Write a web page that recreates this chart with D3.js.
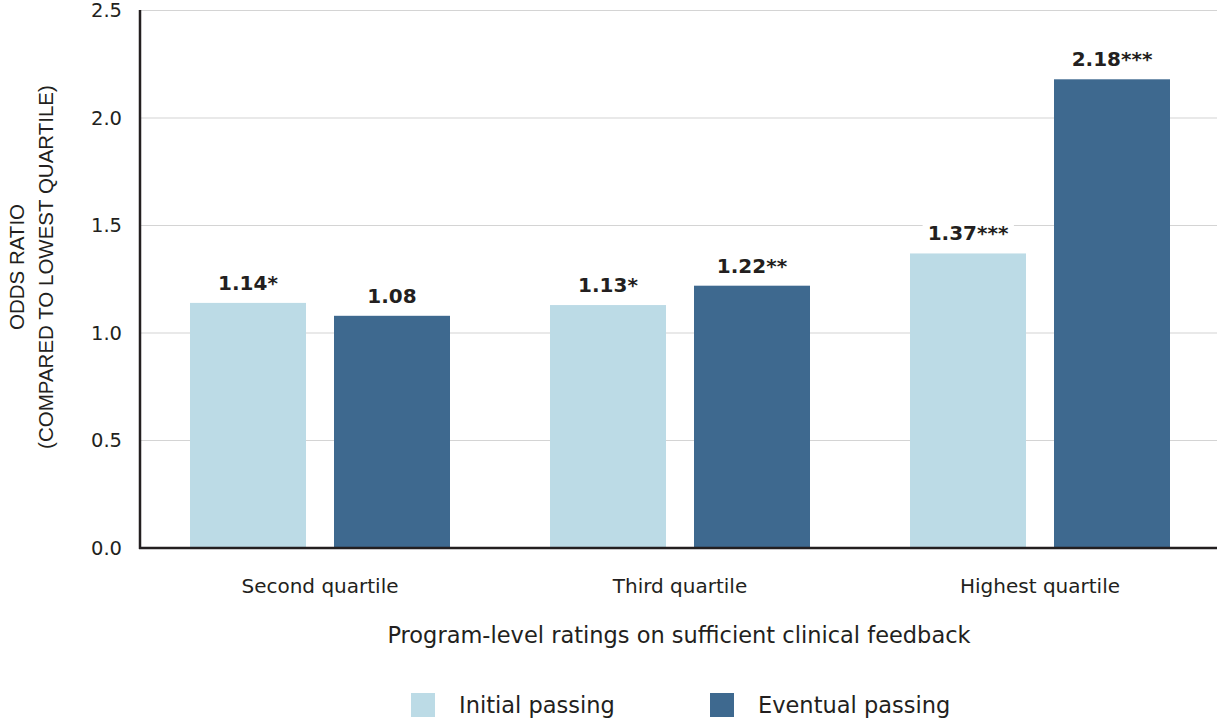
<!DOCTYPE html>
<html><head><meta charset="utf-8">
<script src="https://cdn.jsdelivr.net/npm/d3@7"></script>
<style>body{margin:0;background:#fff}svg{display:block}text{font-family:"DejaVu Sans",sans-serif;fill:#231f20}</style>
</head><body><svg id="c" width="1217" height="720"></svg>
<script>
const categories = ["Second quartile", "Third quartile", "Highest quartile"];
const seriesNames = ["Initial passing", "Eventual passing"];
const initialValues = [1.14, 1.13, 1.37];
const eventualValues = [1.08, 1.22, 2.18];
const initialLabels = ["1.14*", "1.13*", "1.37***"];
const eventualLabels = ["1.08", "1.22**", "2.18***"];
const yTicks = [0, 0.5, 1.0, 1.5, 2.0, 2.5];
const colors = ["#bcdbe6", "#3e698f"];

const svg = d3.select("#c");
const x0 = d3.scaleBand().domain(categories).range([140, 1220]);
const x1 = d3.scaleBand().domain(seriesNames).range([50, 310]).paddingInner(28/144);
const y = d3.scaleLinear().domain([0, 2.5]).range([548, 10.5]);

// gridlines
svg.append("g").selectAll("line").data(yTicks.filter(d => d > 0)).join("line")
  .attr("x1", 140).attr("x2", 1217).attr("y1", d => y(d)).attr("y2", d => y(d))
  .attr("stroke", "#d4d4d4").attr("stroke-width", 1.2);

// y axis
const yAxis = d3.axisLeft(y).tickValues(yTicks).tickFormat(d3.format(".1f")).tickSize(0).tickPadding(18);
const ga = svg.append("g").attr("transform", "translate(140,0)").call(yAxis);
ga.select(".domain").remove();
ga.selectAll("text").attr("font-size", 19.5).style("font-family", "DejaVu Sans, sans-serif").attr("fill", "#231f20");

const data = categories.map((c, i) => ({c, vals: [
  {s: seriesNames[0], v: initialValues[i], l: initialLabels[i]},
  {s: seriesNames[1], v: eventualValues[i], l: eventualLabels[i]}]}));

const g = svg.append("g").selectAll("g").data(data).join("g")
  .attr("transform", d => `translate(${x0(d.c)},0)`);
g.selectAll("rect").data(d => d.vals).join("rect")
  .attr("x", d => x1(d.s)).attr("width", x1.bandwidth())
  .attr("y", d => y(d.v)).attr("height", d => y(0) - y(d.v))
  .attr("fill", (d, i) => colors[i]);
const lbl = g.selectAll("g.val").data(d => d.vals).join("g").attr("class", "val");
const bg = lbl.append("rect").attr("fill", "#fff");
lbl.append("text")
  .attr("x", d => x1(d.s) + x1.bandwidth()/2).attr("y", d => y(d.v) - 13)
  .attr("text-anchor", "middle").attr("font-size", 20).attr("font-weight", "bold")
  .text(d => d.l)
  .each(function() {
    const b = this.getBBox();
    d3.select(this.parentNode).select("rect")
      .attr("x", b.x - 5).attr("y", b.y).attr("width", b.width + 10).attr("height", b.height);
  });

// axis lines
svg.append("line").attr("x1", 140).attr("x2", 140).attr("y1", 10).attr("y2", 549)
  .attr("stroke", "#231f20").attr("stroke-width", 2.5);
svg.append("line").attr("x1", 139).attr("x2", 1217).attr("y1", 548).attr("y2", 548)
  .attr("stroke", "#231f20").attr("stroke-width", 2.5);

// category labels
svg.append("g").selectAll("text").data(categories).join("text")
  .attr("x", d => x0(d) + x0.bandwidth()/2).attr("y", 593)
  .attr("text-anchor", "middle").attr("font-size", 20).text(d => d);

svg.append("text").attr("x", 679).attr("y", 643).attr("text-anchor", "middle")
  .attr("font-size", 22.5).text("Program-level ratings on sufficient clinical feedback");

// y title
const yt = svg.append("text").attr("transform", "translate(0,267) rotate(-90)")
  .attr("text-anchor", "middle").attr("font-size", 20.5)
  .style("font-family", "'Liberation Sans', Arial, sans-serif");
yt.append("tspan").attr("x", 0).attr("y", 24).text("ODDS RATIO");
yt.append("tspan").attr("x", 0).attr("y", 53).text("(COMPARED TO LOWEST QUARTILE)");

// legend
const legendX = [411, 710];
const lg = svg.append("g").selectAll("g").data(seriesNames).join("g")
  .attr("transform", (d, i) => `translate(${legendX[i]},693)`);
lg.append("rect").attr("width", 24).attr("height", 24).attr("fill", (d, i) => colors[i]);
lg.append("text").attr("x", 48).attr("y", 20).attr("font-size", 22.5).text(d => d);
</script></body></html>
